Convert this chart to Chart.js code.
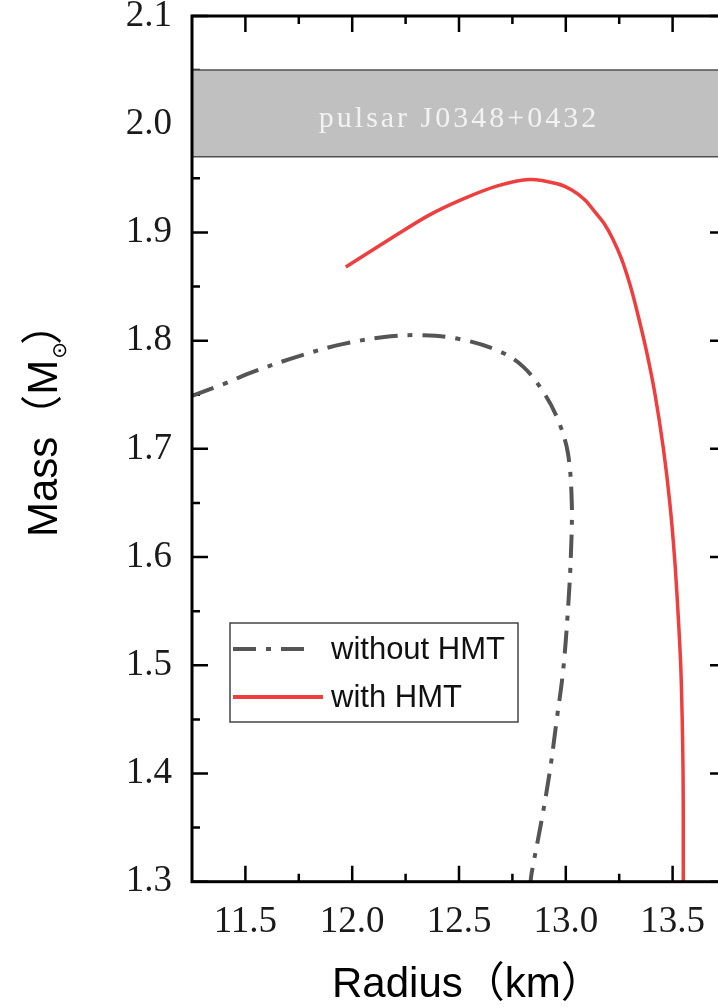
<!DOCTYPE html>
<html><head><meta charset="utf-8">
<script src="https://cdn.jsdelivr.net/npm/chart.js@4/dist/chart.umd.min.js"></script>
<style>html,body{margin:0;padding:0;overflow:hidden;background:#fff;width:718px;height:1008px}canvas{display:block}</style>
</head><body>
<canvas id="c" width="740" height="1008" style="width:740px;height:1008px"></canvas>
<script>
// ---- data ----
const seriesLabels = ['without HMT', 'with HMT'];
const withoutHMT_R = [11.25, 11.40, 11.52, 11.74, 11.96, 12.18, 12.33, 12.49, 12.68, 12.80, 12.90, 12.965, 13.01, 13.028, 13.024, 13.012, 12.988, 12.957, 12.926, 12.887, 12.84, 12.835];
const withoutHMT_M = [1.749, 1.760, 1.770, 1.785, 1.797, 1.804, 1.805, 1.802, 1.791, 1.776, 1.751, 1.726, 1.696, 1.650, 1.603, 1.557, 1.496, 1.449, 1.403, 1.357, 1.308, 1.300];
const withHMT_R = [11.97, 12.21, 12.36, 12.52, 12.68, 12.83, 12.96, 13.03, 13.09, 13.14, 13.18, 13.22, 13.26, 13.30, 13.335, 13.378, 13.418, 13.457, 13.487, 13.509, 13.525, 13.538, 13.545, 13.549, 13.55, 13.55];
const withHMT_M = [1.868, 1.898, 1.916, 1.931, 1.943, 1.949, 1.945, 1.939, 1.930, 1.918, 1.908, 1.894, 1.876, 1.852, 1.826, 1.790, 1.750, 1.700, 1.650, 1.600, 1.550, 1.500, 1.450, 1.400, 1.350, 1.300];
const xTicks = [11.5, 12.0, 12.5, 13.0, 13.5];
const xMinorTicks = [11.75, 12.25, 12.75, 13.25];
const yTicks = [1.3, 1.4, 1.5, 1.6, 1.7, 1.8, 1.9, 2.0, 2.1];
const yMinorTicks = [1.35, 1.45, 1.55, 1.65, 1.75, 1.85, 1.95, 2.05];
const pulsarBand = [1.97, 2.05];
const pulsarLabel = 'pulsar J0348+0432';
const xTitle = 'Radius\uFF08km\uFF09';
const yTitleMain = 'Mass\uFF08M';
const yTitleSub = '\u2299';
const yTitleEnd = '\uFF09';

const SANS = '"Liberation Sans", "DejaVu Sans", "Noto Sans CJK SC", sans-serif';
const SERIF = '"Liberation Serif", "DejaVu Serif", serif';

const decor = {
  id: 'decor',
  beforeDatasetsDraw(chart) {
    const { ctx, chartArea: a, scales: { x, y } } = chart;
    ctx.save();
    ctx.strokeStyle = '#000';
    ctx.lineWidth = 2.5;
    const vt = (vals, len) => vals.forEach(v => {
      const p = x.getPixelForValue(v);
      ctx.beginPath();
      ctx.moveTo(p, a.bottom); ctx.lineTo(p, a.bottom - len);
      ctx.moveTo(p, a.top); ctx.lineTo(p, a.top + len);
      ctx.stroke();
    });
    const ht = (vals, len) => vals.forEach(v => {
      const p = y.getPixelForValue(v);
      ctx.beginPath();
      ctx.moveTo(a.left, p); ctx.lineTo(a.left + len, p);
      ctx.moveTo(a.right, p); ctx.lineTo(a.right - len, p);
      ctx.stroke();
    });
    vt(xTicks, 16); vt(xMinorTicks, 8);
    ht(yTicks, 16); ht(yMinorTicks, 8);
    // pulsar band
    const yt = y.getPixelForValue(pulsarBand[1]);
    const yb = y.getPixelForValue(pulsarBand[0]);
    ctx.fillStyle = '#c0c0c0';
    ctx.fillRect(a.left, yt, a.right - a.left, yb - yt);
    ctx.strokeStyle = '#505050';
    ctx.lineWidth = 1.5;
    ctx.beginPath();
    ctx.moveTo(a.left, yt); ctx.lineTo(a.right, yt);
    ctx.moveTo(a.left, yb); ctx.lineTo(a.right, yb);
    ctx.stroke();
    ctx.fillStyle = '#f2f2f2';
    ctx.font = '30px ' + SERIF;
    ctx.letterSpacing = '3px';
    ctx.textAlign = 'center';
    ctx.textBaseline = 'alphabetic';
    ctx.fillText(pulsarLabel, 459, 127);
    ctx.restore();
  },
  afterDatasetsDraw(chart) {
    const { ctx, chartArea: a } = chart;
    ctx.save();
    // frame
    ctx.strokeStyle = '#000';
    ctx.lineWidth = 3;
    ctx.strokeRect(a.left, a.top, a.right - a.left, a.bottom - a.top);
    // legend
    ctx.fillStyle = '#fff';
    ctx.fillRect(230, 623, 288, 99);
    ctx.strokeStyle = '#444';
    ctx.lineWidth = 1.5;
    ctx.strokeRect(230, 623, 288, 99);
    const rows = [649, 697];
    const ends = [310, 323];
    chart.data.datasets.forEach((ds, i) => {
      ctx.strokeStyle = ds.borderColor;
      ctx.lineWidth = 4;
      ctx.setLineDash(ds.borderDash || []);
      ctx.beginPath();
      ctx.moveTo(233, rows[i]); ctx.lineTo(ends[i], rows[i]);
      ctx.stroke();
      ctx.setLineDash([]);
      ctx.fillStyle = '#111';
      ctx.font = '31px ' + SANS;
      ctx.textAlign = 'left';
      ctx.textBaseline = 'middle';
      ctx.fillText(ds.label, 331, rows[i] + 1);
    });
    // x title
    ctx.fillStyle = '#000';
    ctx.font = '42px ' + SANS;
    ctx.textAlign = 'left';
    ctx.textBaseline = 'alphabetic';
    ctx.fillText(xTitle, 332, 997);
    // y title (rotated, with subscript)
    ctx.translate(57, 537);
    ctx.rotate(-Math.PI / 2);
    ctx.font = '42px ' + SANS;
    ctx.fillText(yTitleMain, 0, 0);
    let w = ctx.measureText(yTitleMain).width;
    ctx.font = '20px ' + SANS;
    ctx.fillText(yTitleSub, w + 1, 9);
    w += ctx.measureText(yTitleSub).width + 2;
    ctx.font = '42px ' + SANS;
    ctx.fillText(yTitleEnd, w - 4, 0);
    ctx.restore();
  }
};

const toPts = (R, M) => R.map((r, i) => ({ x: r, y: M[i] }));

new Chart(document.getElementById('c'), {
  type: 'line',
  data: {
    datasets: [
      { label: seriesLabels[0], data: toPts(withoutHMT_R, withoutHMT_M), borderColor: '#555555', borderWidth: 4, borderDash: [23, 10, 5, 10], pointRadius: 0, tension: 0.35, fill: false },
      { label: seriesLabels[1], data: toPts(withHMT_R, withHMT_M), borderColor: '#ef3e3e', borderWidth: 3.5, pointRadius: 0, tension: 0.3, fill: false }
    ]
  },
  options: {
    responsive: false,
    animation: false,
    layout: { padding: { left: 0, right: 14, top: 16, bottom: 0 } },
    plugins: { legend: { display: false }, tooltip: { enabled: false } },
    scales: {
      x: {
        type: 'linear', min: 11.25, max: 13.75,
        afterBuildTicks: s => { s.ticks = xTicks.map(v => ({ value: v })); },
        afterFit: s => { s.height = 126.3; s.paddingLeft = 0; s.paddingRight = 0; },
        grid: { display: false, drawTicks: false },
        border: { display: false },
        ticks: { font: { family: SERIF, size: 37 }, color: '#1a1a1a', padding: 18, maxRotation: 0, autoSkip: false, callback: v => Number(v).toFixed(1) }
      },
      y: {
        type: 'linear', min: 1.3, max: 2.1,
        afterBuildTicks: s => { s.ticks = yTicks.map(v => ({ value: v })); },
        afterFit: s => { s.width = 192; s.paddingTop = 0; s.paddingBottom = 0; },
        grid: { display: false, drawTicks: false },
        border: { display: false },
        ticks: { font: { family: SERIF, size: 37 }, color: '#1a1a1a', padding: 20, autoSkip: false, callback: v => Number(v).toFixed(1) }
      }
    }
  },
  plugins: [decor]
});
</script>
</body></html>
